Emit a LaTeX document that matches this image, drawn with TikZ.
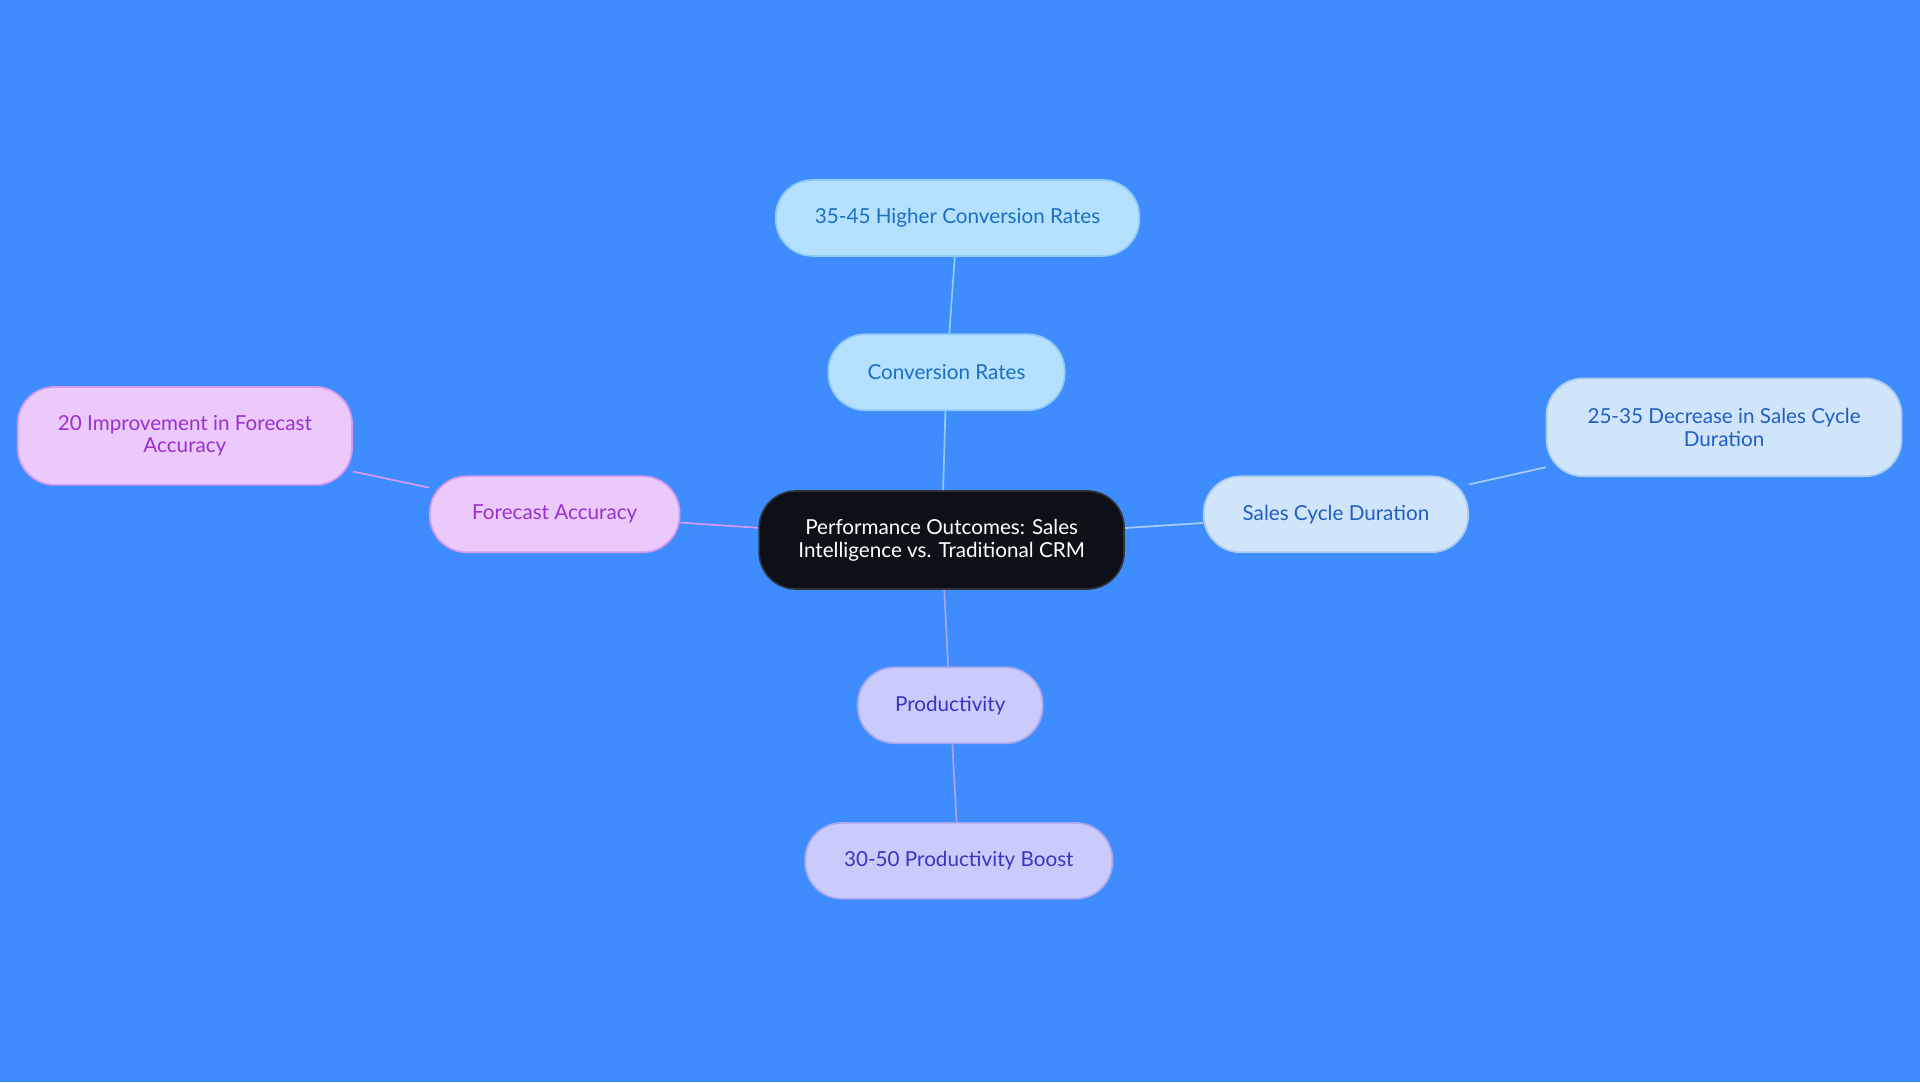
\documentclass[tikz,border=0pt]{standalone}
\usepackage{fontspec}
\setmainfont{Lato}
\usetikzlibrary{backgrounds}
\definecolor{bgblue}{HTML}{3F8CFF}
\definecolor{rootfill}{HTML}{0D1117}
\definecolor{convfill}{HTML}{B5E1FF}
\definecolor{convtext}{HTML}{1A6FC4}
\definecolor{convline}{HTML}{8FCBF5}
\definecolor{cyclefill}{HTML}{D0E4FA}
\definecolor{cycletext}{HTML}{1F5FC4}
\definecolor{cycleline}{HTML}{A9CBF0}
\definecolor{forefill}{HTML}{EBC9FB}
\definecolor{foretext}{HTML}{9A30D0}
\definecolor{foreline}{HTML}{D59AF0}
\definecolor{prodfill}{HTML}{CACAFB}
\definecolor{prodtext}{HTML}{3636C2}
\definecolor{prodline}{HTML}{A7A7F0}

\begin{document}
\begin{tikzpicture}[x=0.02cm, y=-0.02cm,
  box/.style={rectangle, rounded corners=0.6cm, thick, align=center,
    font=\fontsize{9.6pt}{10.5pt}\selectfont, inner sep=0pt},
  root/.style={box, fill=rootfill, draw=rootfill!70!gray, text=white, minimum height=1.6cm},
  conv/.style={box, fill=convfill, draw=convline, text=convtext, minimum height=1.24cm},
  cycle/.style={box, fill=cyclefill, draw=cycleline, text=cycletext, minimum height=1.24cm},
  fore/.style={box, fill=forefill, draw=foreline, text=foretext, minimum height=1.24cm},
  prod/.style={box, fill=prodfill, draw=prodline, text=prodtext, minimum height=1.24cm}]

\node (root) [root, minimum width=5.96cm] at (769,441) {Performance Outcomes: Sales\\Intelligence vs. Traditional CRM};

\node (conv) [conv, minimum width=3.86cm] at (773,304) {Conversion Rates};
\node (convsub) [conv, minimum width=5.94cm] at (782,178) {35-45 Higher Conversion Rates};

\node (cycle) [cycle, minimum width=4.32cm] at (1091,420) {Sales Cycle Duration};
\node (cyclesub) [cycle, minimum width=5.8cm, minimum height=1.6cm] at (1408,349) {25-35 Decrease in Sales Cycle\\Duration};

\node (fore) [fore, minimum width=4.08cm] at (453,420) {Forecast Accuracy};
\node (foresub) [fore, minimum width=5.46cm, minimum height=1.6cm] at (151,356) {20 Improvement in Forecast\\Accuracy};

\node (prod) [prod, minimum width=3.02cm] at (776,576) {Productivity};
\node (prodsub) [prod, minimum width=5.02cm] at (783,703) {30-50 Productivity Boost};

\begin{scope}[on background layer]
\fill[bgblue] (0,0) rectangle (1568,884);
\draw[convline, thick] (root) -- (conv);
\draw[convline, thick] (conv) -- (convsub);
\draw[cycleline, thick] (root) -- (cycle);
\draw[cycleline, thick] (cycle) -- (cyclesub);
\draw[foreline, thick] (root) -- (fore);
\draw[foreline, thick] (fore) -- (foresub);
\draw[prodline, thick] (root) -- (prod);
\draw[prodline, thick] (prod) -- (prodsub);
\end{scope}
\end{tikzpicture}
\end{document}
